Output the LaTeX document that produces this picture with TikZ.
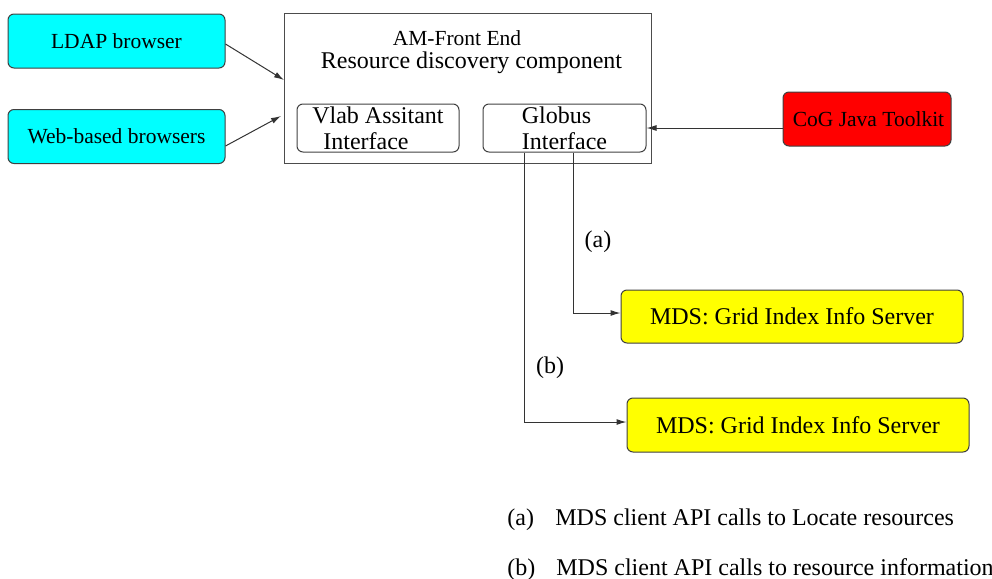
\documentclass[tikz,border=0pt]{standalone}
\usepackage{fontspec}
\setmainfont{Liberation Serif}
\usetikzlibrary{arrows.meta}
\definecolor{figcyan}{RGB}{0,255,255}
\definecolor{figred}{RGB}{255,0,0}
\definecolor{figyellow}{RGB}{255,255,0}
\begin{document}
\begin{tikzpicture}[x=0.5pt,y=-0.5pt,
  box/.style={draw=black!75, line width=0.5pt, rounded corners=3pt, inner sep=0pt},
  frame/.style={draw=black!70, line width=0.5pt, inner sep=0pt},
  small/.style={font=\fontsize{10.75}{12.9}\selectfont},
  large/.style={font=\fontsize{12}{13}\selectfont},
  arr/.style={draw=black!80, line width=0.5pt, -{Latex[length=5pt,width=3pt]}}]
\useasboundingbox (0,0) rectangle (992,579);
% left browsers
\node[box, small, fill=figcyan, minimum width=108.5pt, minimum height=27pt] (ldap) at (116.5,41) {LDAP browser};
\node[box, small, fill=figcyan, minimum width=108.5pt, minimum height=27pt] (web) at (116.5,136.5) {Web-based browsers};
% front end
\node[frame, minimum width=183.5pt, minimum height=75pt] (front) at (467.5,88) {};
\node[small, anchor=base] (t1) at (457,45) {AM-Front End};
\node[large, anchor=base] (t2) at (471.5,68) {Resource discovery component};
\node[box, large, align=left, minimum width=81pt, minimum height=24pt] (vlab) at (378,128) {Vlab Assitant\\\hspace*{5.5pt}Interface};
\node[box, large, align=left, minimum width=81.5pt, minimum height=24pt] (glob) at (564.5,128) {Globus\\Interface};
% CoG
\node[box, small, fill=figred, minimum width=84pt, minimum height=27pt] (cog) at (867,119) {\hspace*{1.5pt}CoG Java Toolkit};
% MDS servers
\node[box, large, fill=figyellow, minimum width=171pt, minimum height=26.5pt] (mds1) at (792,316.5) {MDS: Grid Index Info Server};
\node[box, large, fill=figyellow, minimum width=171pt, minimum height=27pt] (mds2) at (798,425) {MDS: Grid Index Info Server};
% labels
\node[large] (la) at (598,242) {(a)};
\node[large] (lb) at (550,368) {(b)};
% legend
\node[large, anchor=base west, inner sep=0pt] (ka) at (507,525) {(a)};
\node[large, anchor=base west, inner sep=0pt] (kta) at (555,525) {MDS client API calls to Locate resources};
\node[large, anchor=base west, inner sep=0pt] (kb) at (507,575) {(b)};
\node[large, anchor=base west, inner sep=0pt] (ktb) at (556,575) {MDS client API calls to resource information};
% connectors
\coordinate (e1) at (284,80);
\coordinate (e2) at (281,116);
\draw[arr] ([yshift=-1.5pt]ldap.east) -- (e1);
\draw[arr] ([yshift=-4.75pt]web.east) -- (e2);
\draw[arr] (cog.west |- glob.east) -- (glob.east);
\draw[arr] ([xshift=4.25pt]glob.south) |- ([yshift=1.75pt]mds1.west);
\draw[arr] ([xshift=-20.25pt]glob.south) |- ([yshift=1.5pt]mds2.west);
\end{tikzpicture}
\end{document}
